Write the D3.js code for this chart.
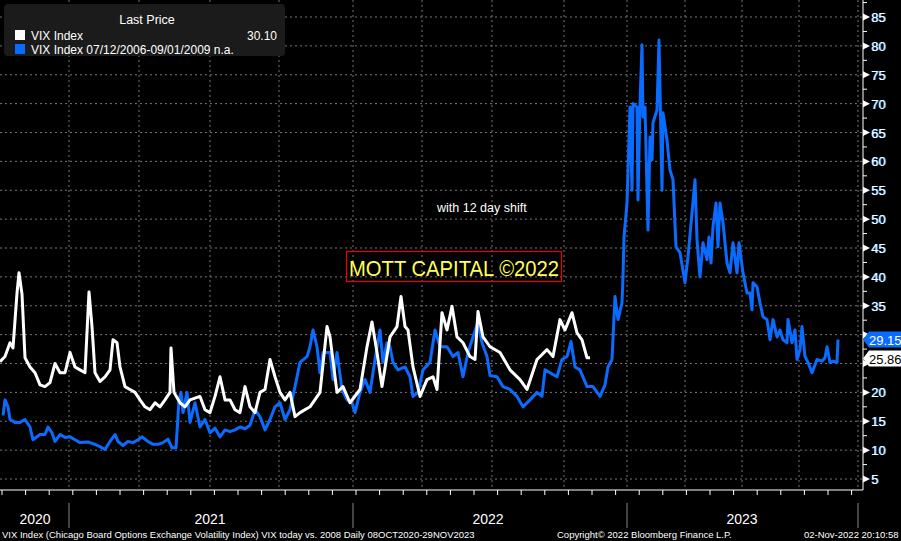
<!DOCTYPE html>
<html><head><meta charset="utf-8">
<script src="https://cdn.jsdelivr.net/npm/d3@7"></script>
<style>body{margin:0;background:#000;overflow:hidden}svg{display:block}</style>
</head><body><svg id="c" width="901" height="541"></svg>
<script>
// x values are trading-session positions on the chart's session axis (0 = 08OCT2020)
const vixNow = [[0,25.3],[5,26.2],[10,28.6],[13,27.7],[17,37.2],[19,40.7],[22,37],[25,26],[30,24.4],[35,23.4],[40,21.3],[45,21],[50,21.7],[55,25],[60,23.4],[65,23.4],[70,26.9],[75,24.4],[80,23.9],[85,23.4],[89,37.4],[92,31.4],[95,23.4],[100,21.9],[105,22.7],[110,23.9],[113,29.1],[117,28.6],[120,24.4],[125,21],[130,20.5],[135,20],[140,18.7],[145,17.5],[150,17],[155,18.2],[160,17.5],[165,18.7],[170,20],[171,27.7],[174,20],[180,18.2],[185,17.5],[190,18.7],[200,19.3],[205,17],[210,16.5],[215,19.3],[220,22.7],[225,18.7],[230,18.7],[235,17],[240,16.5],[245,21],[250,17.5],[255,16.5],[260,20],[265,20.5],[270,25.7],[275,22.7],[280,20],[285,18.7],[290,20],[295,15.8],[300,16.5],[310,17.5],[320,20],[327,31.4],[330,29.6],[337,20],[343,21],[350,18.2],[360,20.5],[367,27.9],[372,32.2],[377,26.9],[382,21],[390,29.6],[397,31.4],[401,36.6],[405,31.4],[408,30.8],[413,24.4],[420,19.3],[427,22.2],[433,22.7],[437,20.5],[442,33.8],[447,30.8],[452,34.9],[457,29.6],[463,28.6],[470,26.2],[475,25.7],[478,34],[483,29.6],[490,27.9],[500,26.9],[510,23.9],[520,22.2],[527,20.5],[537,25.7],[547,27.4],[553,26.2],[560,32.6],[565,30.8],[572,33.8],[577,30.3],[582,29.1],[587,26],[590,26]];
const vix2008 = [[3,16],[5,18.7],[8,17.5],[10,15.3],[15,14.8],[20,14.8],[25,15.3],[30,14],[33,11.8],[40,12.7],[45,12.7],[48,14],[52,13],[55,11.5],[60,12.7],[65,12.2],[70,12.3],[75,11.8],[80,11.3],[88,11.4],[95,11],[100,10.6],[105,10.1],[110,11.5],[115,12.7],[118,11.5],[123,10.8],[128,11.5],[133,11.3],[138,11.8],[142,12.3],[148,11.5],[153,11],[158,11],[163,11.3],[168,11.9],[172,10.4],[176,10.4],[179,18.7],[181,20],[183,16.5],[187,20],[190,14.8],[195,18.2],[200,14],[205,15.3],[210,13],[215,13.8],[220,12.3],[225,13.5],[230,13.2],[235,13.5],[240,14],[245,13.7],[250,14.3],[255,17],[260,15.8],[265,13.5],[270,15.3],[275,17.5],[280,18.2],[285,15.3],[290,17],[295,21],[300,25.2],[307,26.2],[310,27.9],[313,30.8],[317,27.9],[320,23.4],[323,26.9],[330,26.9],[333,22.2],[337,26.9],[342,20.5],[347,18.7],[352,18.2],[355,16.5],[360,20],[365,22.2],[370,20],[375,25.7],[380,30.8],[383,25.2],[387,28.6],[390,27.9],[393,25.2],[398,23.9],[405,24.4],[410,22.7],[413,19.3],[418,20],[423,23.9],[430,25.2],[435,30.8],[440,27.9],[447,27.9],[453,26.2],[458,26.9],[463,22.7],[468,26.9],[473,29.6],[478,32.2],[482,28.6],[487,26.2],[490,22.9],[497,22.7],[503,21],[510,20.5],[517,19.3],[523,17.5],[530,18.7],[537,20],[542,19.3],[545,23.9],[550,23.4],[557,22.7],[562,25.7],[567,26.2],[571,28.8],[575,24.4],[580,23.9],[587,21],[593,21],[600,19.3],[605,21.3],[608,24.4],[612,25.7],[615,36.6],[618,32.6],[622,35.5],[623,40],[624,46.9],[627,52.8],[630,69.4],[632,55],[633,70],[637,69.4],[638,53.3],[640,70],[642,80.2],[643,67.7],[645,69.4],[648,48.1],[650,64.2],[652,60.3],[653,66.7],[657,68.9],[659,81],[662,55],[663,68.4],[667,63.7],[670,58.5],[673,56.8],[676,45.2],[680,44.2],[685,39],[688,43.5],[692,51.1],[695,56.8],[697,46.4],[700,40],[703,45.9],[707,43],[709,46.9],[711,42.4],[713,48.7],[716,52.8],[718,45.2],[720,52.8],[723,49.4],[727,42.4],[730,40.7],[733,45.9],[737,40.7],[739,45.9],[743,40.7],[747,37.2],[750,37.2],[752,34.3],[753,39],[757,38.3],[760,35.5],[763,33.1],[767,32.6],[770,29.1],[773,32.6],[777,29.6],[780,30.8],[783,29.1],[787,28.6],[788,32.6],[792,28.6],[795,30.8],[797,25.7],[800,27.4],[802,31.4],[805,26.2],[808,25.2],[812,23.4],[817,25.7],[822,25.4],[825,26],[827,27.9],[830,25.2],[833,25.4],[837,25.2],[838,29.15]];
const quarterSessions = [69,139,210,279,353,422,492,564,627,685,742,799,858];
const yearSeparators = [69,353,627,858];
const yearLabels = [["2020",35],["2021",210],["2022",488],["2023",742]];
const yTicks = d3.range(5, 90, 5);
const lastWhite = 25.86, lastBlue = 29.15;

const svg = d3.select("#c");
svg.append("rect").attr("width",901).attr("height",541).attr("fill","#000");
const x = d3.scaleLinear().domain([0,863]).range([0,863]);
const y = d3.scaleLinear().domain([5,85]).range([479,17]);
const g = svg.append("g");
const nf = "Liberation Sans Narrow, Arial Narrow, Liberation Sans";
g.selectAll(".hg").data(yTicks).join("line").attr("x1",0).attr("x2",863)
 .attr("y1",d=>y(d)).attr("y2",d=>y(d)).attr("stroke","#777").attr("stroke-dasharray","2,3");
g.selectAll(".vg").data(quarterSessions).join("line").attr("x1",d=>x(d)).attr("x2",d=>x(d))
 .attr("y1",0).attr("y2",490).attr("stroke","#777").attr("stroke-dasharray","2,3");
const line = d3.line().x(d=>x(d[0])).y(d=>y(d[1]));
g.append("path").datum(vix2008).attr("d",line).attr("fill","none").attr("stroke","#0a6cff").attr("stroke-width",3).attr("stroke-linejoin","round");
g.append("path").datum(vixNow).attr("d",line).attr("fill","none").attr("stroke","#fff").attr("stroke-width",3).attr("stroke-linejoin","round");
g.append("line").attr("x1",863).attr("x2",863).attr("y1",0).attr("y2",490).attr("stroke","#fff");
const ya = g.append("g");
ya.selectAll("path").data(yTicks).join("path")
 .attr("d",d=>`M863,${y(d)-3.5}L870,${y(d)}L863,${y(d)+3.5}Z`).attr("fill","#fff");
ya.selectAll(".mn").data(d3.range(7.5,90,5)).join("line").attr("x1",863).attr("x2",867)
 .attr("y1",d=>y(d)).attr("y2",d=>y(d)).attr("stroke","#fff");
ya.selectAll("text").data(yTicks.filter(d=>d!==25&&d!==30)).join("text").attr("x",871).attr("y",d=>y(d)+5)
 .text(d=>d).attr("fill","#fff").attr("font-family",nf).attr("font-size",13)
 .style("text-shadow","1px 0 #3af");
function tag(v,bg,fg){
  const yy=y(v);
  g.append("path").attr("d",`M863,${yy}L869,${yy-8}L901,${yy-8}L901,${yy+8}L869,${yy+8}Z`).attr("fill",bg);
  g.append("text").attr("x",869).attr("y",yy+5).text(v.toFixed(2)).attr("fill",fg)
   .attr("font-family",nf).attr("font-size",13);
}
tag(lastBlue,"#0a6cff","#fff");
tag(lastWhite,"#fff","#000");
g.append("line").attr("x1",0).attr("x2",863).attr("y1",490).attr("y2",490).attr("stroke","#fff");
const months = d3.range(2,858,23.6);
g.selectAll(".mt").data(months).join("line").attr("x1",d=>x(d)).attr("x2",d=>x(d))
 .attr("y1",490).attr("y2",495).attr("stroke","#fff");
g.selectAll(".ys").data(yearSeparators).join("line").attr("x1",d=>x(d)).attr("x2",d=>x(d))
 .attr("y1",503).attr("y2",528).attr("stroke","#888");
g.selectAll(".yl").data(yearLabels).join("text").attr("x",d=>x(d[1])).attr("y",524)
 .attr("text-anchor","middle").text(d=>d[0]).attr("fill","#fff")
 .attr("font-family",nf).attr("font-size",14);
function ft(t,xx){svg.append("text").attr("x",xx).attr("y",538).text(t).attr("font-family",nf).attr("font-size",9.5).attr("fill","#fff");}
ft("VIX Index (Chicago Board Options Exchange Volatility Index) VIX today vs. 2008  Daily 08OCT2020-29NOV2023",2);
ft("Copyright\u00A9 2022 Bloomberg Finance L.P.",557);
ft("02-Nov-2022 20:10:58",804);
svg.append("rect").attr("x",4).attr("y",4).attr("width",281).attr("height",52).attr("rx",4).attr("fill","#1b1b1b");
const lf="Liberation Sans, Arial";
svg.append("text").attr("x",147).attr("y",24).attr("text-anchor","middle").text("Last Price").attr("fill","#fff").attr("font-family",lf).attr("font-size",12.5);
svg.append("rect").attr("x",15).attr("y",30).attr("width",10).attr("height",10).attr("fill","#fff");
svg.append("rect").attr("x",15).attr("y",44).attr("width",10).attr("height",10).attr("fill","#0a6cff");
svg.append("text").attr("x",31).attr("y",40).text("VIX Index").attr("fill","#fff").attr("font-family",lf).attr("font-size",12);
svg.append("text").attr("x",277).attr("y",40).attr("text-anchor","end").text("30.10").attr("fill","#fff").attr("font-family",lf).attr("font-size",12);
svg.append("text").attr("x",31).attr("y",54).text("VIX Index 07/12/2006-09/01/2009 n.a.").attr("fill","#fff").attr("font-family",lf).attr("font-size",12);
svg.append("text").attr("x",437).attr("y",212).text("with 12 day shift").attr("fill","#fff").attr("font-family",lf).attr("font-size",12.5);
svg.append("rect").attr("x",346.5).attr("y",251.5).attr("width",215).attr("height",30).attr("fill","none").attr("stroke","#e00").attr("stroke-width",1.2);
svg.append("text").attr("x",349).attr("y",276).text("MOTT CAPITAL \u00A92022").attr("fill","#ffff55")
 .attr("font-family",nf).attr("font-size",22).attr("textLength",210).attr("lengthAdjust","spacingAndGlyphs");
</script></body></html>
